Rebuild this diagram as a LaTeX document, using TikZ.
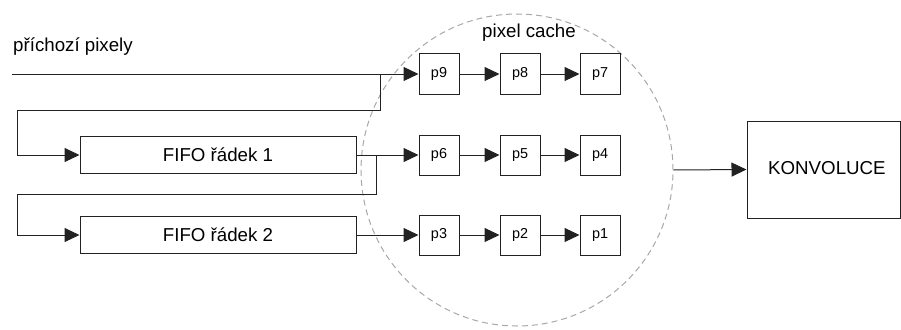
\documentclass[tikz,border=0pt]{standalone}
\usepackage{fontspec}
\setmainfont{Liberation Sans}
\usetikzlibrary{arrows.meta}
\definecolor{ln}{HTML}{222222}
\definecolor{dashc}{HTML}{A8A8A8}
\begin{document}
\begin{tikzpicture}[x=1pt,y=-1pt,
  big/.style={font=\fontsize{18.7}{22}\selectfont},
  pbox/.style={draw=ln, line width=1pt, minimum width=40pt, minimum height=40pt, inner sep=0pt, font=\fontsize{14.4}{17}\selectfont},
  fifo/.style={draw=ln, line width=1pt, minimum width=276pt, minimum height=37pt, inner sep=0pt, big},
  conn/.style={draw=ln, line width=1pt},
  arr/.style={conn, -{Triangle[length=15pt,width=14pt]}}]
\useasboundingbox (0,0) rectangle (901,329);
% cache circle
\node[draw=dashc, dash pattern=on 6pt off 4pt, line width=1pt, circle, minimum size=312pt, inner sep=0pt] (cache) at (517,170) {};
\node[big] (cachelbl) at (529,33) {pixel cache};
% input label
\node[big, anchor=base west, inner sep=0pt] (inlbl) at (13,52) {příchozí pixely};
% pixel boxes
\node[pbox] (p9) at (439,74) {p9};
\node[pbox] (p8) at (520,74) {p8};
\node[pbox] (p7) at (600,74) {p7};
\node[pbox] (p6) at (439,155) {p6};
\node[pbox] (p5) at (520,155) {p5};
\node[pbox] (p4) at (600,155) {p4};
\node[pbox] (p3) at (439,235) {p3};
\node[pbox] (p2) at (520,235) {p2};
\node[pbox] (p1) at (600,235) {p1};
% FIFOs
\node[fifo] (f1) at (218,155) {FIFO řádek 1};
\node[fifo] (f2) at (218,235) {FIFO řádek 2};
% konvoluce
\node[draw=ln, line width=1pt, minimum width=153pt, minimum height=97pt, inner sep=0pt] (konv) at (823.5,169.5) {};
\node[big, anchor=west, inner sep=0pt] (konvlbl) at (768,168) {KONVOLUCE};
% coordinates
\coordinate (src) at (12,74);
\coordinate (b1) at (380,74);
\coordinate (b1d) at (380,110);
\coordinate (l1) at (17,110);
\coordinate (b2) at (376,155);
\coordinate (b2d) at (376,194);
\coordinate (l2) at (17,194);
% connectors
\draw[arr] (src) -- (p9.west);
\draw[arr] (b1) -- (b1d) -- (l1) |- (f1.west);
\draw[arr] (f1.east) -- (p6.west);
\draw[arr] (b2) -- (b2d) -- (l2) |- (f2.west);
\draw[arr] (f2.east) -- (p3.west);
\draw[arr] (p9) -- (p8);
\draw[arr] (p8) -- (p7);
\draw[arr] (p6) -- (p5);
\draw[arr] (p5) -- (p4);
\draw[arr] (p3) -- (p2);
\draw[arr] (p2) -- (p1);
\draw[arr] (cache.east) -- (konv.west);
\end{tikzpicture}
\end{document}
